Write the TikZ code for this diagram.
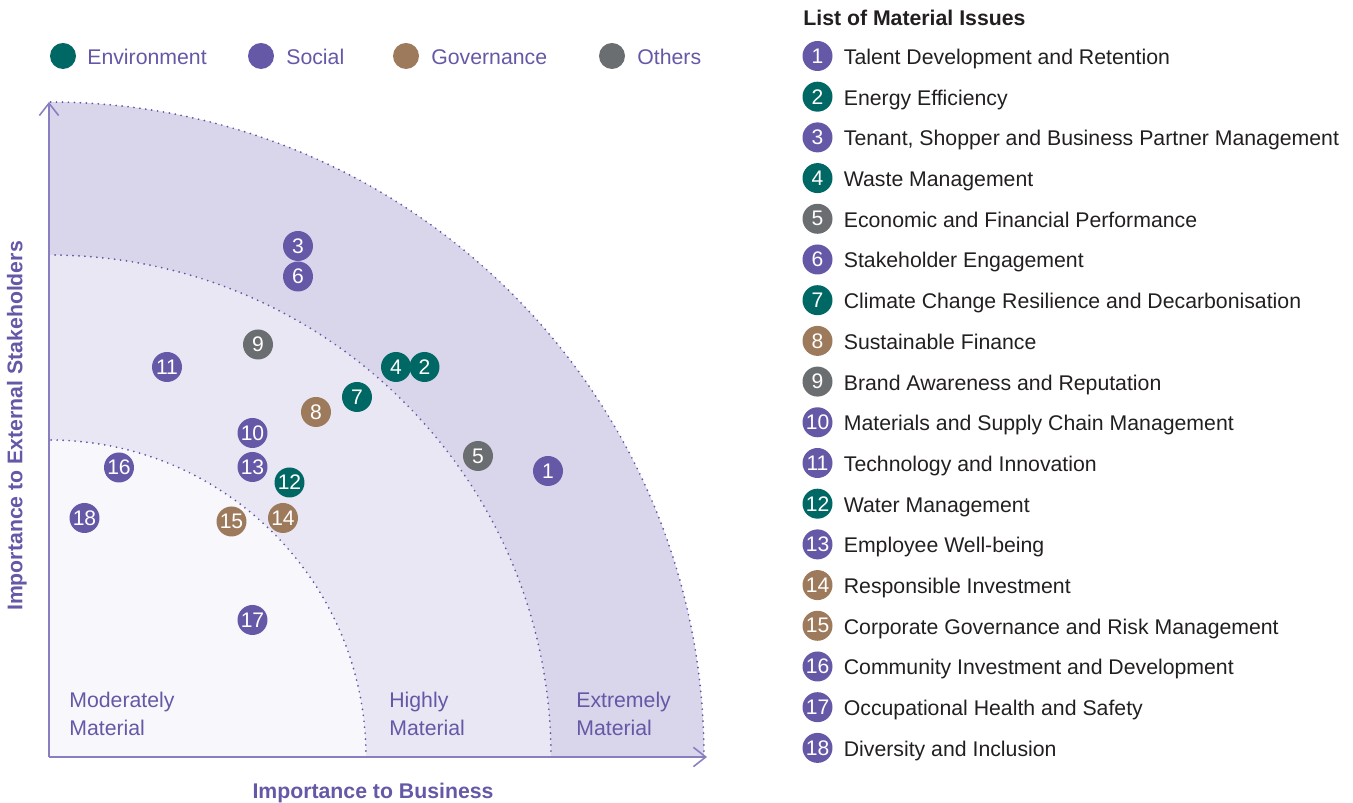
\documentclass[tikz,border=0pt]{standalone}
\usepackage{fontspec}
\setmainfont{Liberation Sans}
\usepackage{tikz}
\usetikzlibrary{arrows.meta,calc}

\definecolor{envcol}{RGB}{0,104,100}
\definecolor{soccol}{RGB}{101,88,167}
\definecolor{govcol}{RGB}{157,122,91}
\definecolor{othcol}{RGB}{107,110,112}
\definecolor{bandA}{RGB}{217,213,234}
\definecolor{bandB}{RGB}{233,231,244}
\definecolor{bandC}{RGB}{248,247,252}
\definecolor{axiscol}{RGB}{136,126,192}
\definecolor{dotcol}{RGB}{95,84,165}
\definecolor{listtext}{RGB}{35,31,32}

\tikzset{
  issue/.style={circle, inner sep=0pt, minimum size=0.6cm, text=white, font=\fontsize{12}{12}\selectfont},
  env/.style={issue, fill=envcol},
  soc/.style={issue, fill=soccol},
  gov/.style={issue, fill=govcol},
  oth/.style={issue, fill=othcol},
  legdot/.style={circle, inner sep=0pt, minimum size=0.52cm},
  legtext/.style={anchor=west, inner sep=0pt, text=soccol, font=\fontsize{12.1}{12}\selectfont},
  item/.style={anchor=base west, inner sep=0pt, text=listtext, font=\fontsize{12.1}{12}\selectfont},
  zone/.style={anchor=north west, inner sep=0pt, align=left, text=soccol, font=\fontsize{12.1}{16}\selectfont},
  axislabel/.style={inner sep=0pt, text=soccol, font=\bfseries\fontsize{12.1}{12}\selectfont},
  boundary/.style={draw=dotcol, line width=1.1pt, line cap=round, dash pattern=on 0pt off 3.4pt},
  axisline/.style={draw=axiscol, line width=0.9pt, -{Straight Barb[length=7pt,width=11pt]}}
}

\begin{document}
\begin{tikzpicture}[x=0.02cm, y=0.02cm]
            \useasboundingbox (-49,-46) rectangle (1304,757);
            \fill[bandA] (0,0) -- (655,0) arc[start angle=0, end angle=90, radius=655] -- cycle;
            \fill[bandB] (0,0) -- (502,0) arc[start angle=0, end angle=90, radius=502] -- cycle;
            \fill[bandC] (0,0) -- (317,0) arc[start angle=0, end angle=90, radius=317] -- cycle;
            \draw[boundary] (655,0) arc[start angle=0, end angle=90, radius=655];
            \draw[boundary] (502,0) arc[start angle=0, end angle=90, radius=502];
            \draw[boundary] (317,0) arc[start angle=0, end angle=90, radius=317];
            \coordinate (O) at (0,0);
            \coordinate (Ytop) at (0,655);
            \coordinate (Xend) at (658,0);
            \draw[axisline] (O) -- (Ytop);
            \draw[axisline] (O) -- (Xend);
            \node[axislabel, rotate=90] (ylab) at (-32,331) {Importance to External Stakeholders};
            \node[axislabel] (xlab) at (324,-36) {Importance to Business};
            \node[zone] (moderate) at (20,65) {Moderately\\Material};
            \node[zone] (high) at (340,65) {Highly\\Material};
            \node[zone] (extreme) at (527,65) {Extremely\\Material};
            % legend
            \node[legdot, fill=envcol] (envdot) at (14,701) {};
            \node[legtext] (envtxt) at ($(envdot)+(24,-0.8)$) {Environment};
            \node[legdot, fill=soccol] (socdot) at (212,701) {};
            \node[legtext] (soctxt) at ($(socdot)+(25,-0.8)$) {Social};
            \node[legdot, fill=govcol] (govdot) at (357,701) {};
            \node[legtext] (govtxt) at ($(govdot)+(25,-0.8)$) {Governance};
            \node[legdot, fill=othcol] (othdot) at (563,701) {};
            \node[legtext] (othtxt) at ($(othdot)+(25,-0.8)$) {Others};
            % issues on the matrix
            \node[soc] (P1) at (499,286) {1};
            \node[env] (P4) at (347,390) {4};
            \node[env] (P2) at (375.5,390) {2};
            \node[soc] (P6) at (249,480.5) {6};
            \node[soc] (P3) at (249,511) {3};
            \node[oth] (P5) at (429,301) {5};
            \node[env] (P7) at (308,360) {7};
            \node[gov] (P8) at (267,345) {8};
            \node[oth] (P9) at (209,412.5) {9};
            \node[soc] (P10) at (203.5,324) {10};
            \node[soc] (P11) at (118,390) {11};
            \node[soc] (P13) at (203.5,290) {13};
            \node[env] (P12) at (240.5,274.5) {12};
            \node[gov] (P14) at (234,239) {14};
            \node[gov] (P15) at (182.5,235.5) {15};
            \node[soc] (P16) at (70,289.5) {16};
            \node[soc] (P17) at (203.5,137) {17};
            \node[soc] (P18) at (35.5,239) {18};
            % list
            \node[anchor=base west, inner sep=0pt, text=listtext, font=\bfseries\fontsize{12.1}{12}\selectfont] (title) at (754,731) {List of Material Issues};
            \node[soc] (L1) at (768.5,701) {1};
            \node[env] (L2) at ($(L1)+(0,-40.7)$) {2};
            \node[soc] (L3) at ($(L2)+(0,-40.7)$) {3};
            \node[env] (L4) at ($(L3)+(0,-40.7)$) {4};
            \node[oth] (L5) at ($(L4)+(0,-40.7)$) {5};
            \node[soc] (L6) at ($(L5)+(0,-40.7)$) {6};
            \node[env] (L7) at ($(L6)+(0,-40.7)$) {7};
            \node[gov] (L8) at ($(L7)+(0,-40.7)$) {8};
            \node[oth] (L9) at ($(L8)+(0,-40.7)$) {9};
            \node[soc] (L10) at ($(L9)+(0,-40.7)$) {10};
            \node[soc] (L11) at ($(L10)+(0,-40.7)$) {11};
            \node[env] (L12) at ($(L11)+(0,-40.7)$) {12};
            \node[soc] (L13) at ($(L12)+(0,-40.7)$) {13};
            \node[gov] (L14) at ($(L13)+(0,-40.7)$) {14};
            \node[gov] (L15) at ($(L14)+(0,-40.7)$) {15};
            \node[soc] (L16) at ($(L15)+(0,-40.7)$) {16};
            \node[soc] (L17) at ($(L16)+(0,-40.7)$) {17};
            \node[soc] (L18) at ($(L17)+(0,-40.7)$) {18};
            \node[item] (T1) at ($(L1)+(26,-8.5)$) {Talent Development and Retention};
            \node[item] (T2) at ($(L2)+(26,-8.5)$) {Energy Efficiency};
            \node[item] (T3) at ($(L3)+(26,-8.5)$) {Tenant, Shopper and Business Partner Management};
            \node[item] (T4) at ($(L4)+(26,-8.5)$) {Waste Management};
            \node[item] (T5) at ($(L5)+(26,-8.5)$) {Economic and Financial Performance};
            \node[item] (T6) at ($(L6)+(26,-8.5)$) {Stakeholder Engagement};
            \node[item] (T7) at ($(L7)+(26,-8.5)$) {Climate Change Resilience and Decarbonisation};
            \node[item] (T8) at ($(L8)+(26,-8.5)$) {Sustainable Finance};
            \node[item] (T9) at ($(L9)+(26,-8.5)$) {Brand Awareness and Reputation};
            \node[item] (T10) at ($(L10)+(26,-8.5)$) {Materials and Supply Chain Management};
            \node[item] (T11) at ($(L11)+(26,-8.5)$) {Technology and Innovation};
            \node[item] (T12) at ($(L12)+(26,-8.5)$) {Water Management};
            \node[item] (T13) at ($(L13)+(26,-8.5)$) {Employee Well-being};
            \node[item] (T14) at ($(L14)+(26,-8.5)$) {Responsible Investment};
            \node[item] (T15) at ($(L15)+(26,-8.5)$) {Corporate Governance and Risk Management};
            \node[item] (T16) at ($(L16)+(26,-8.5)$) {Community Investment and Development};
            \node[item] (T17) at ($(L17)+(26,-8.5)$) {Occupational Health and Safety};
            \node[item] (T18) at ($(L18)+(26,-8.5)$) {Diversity and Inclusion};
        \end{tikzpicture}
\end{document}
